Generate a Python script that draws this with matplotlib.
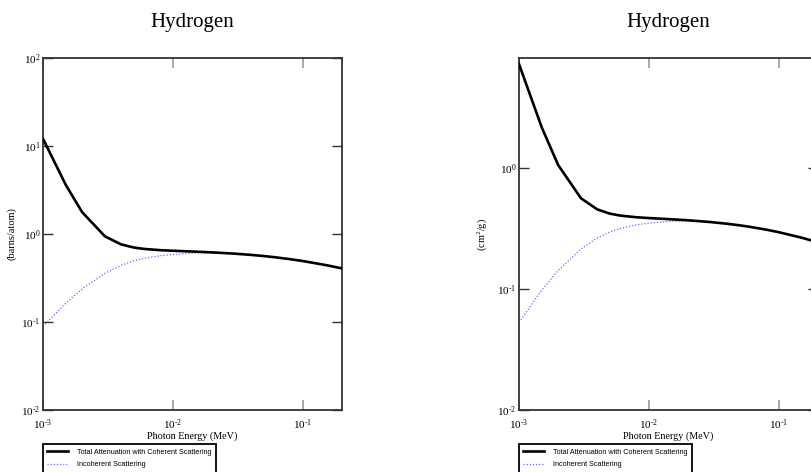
import matplotlib
matplotlib.use("Agg")
import matplotlib.pyplot as plt
from matplotlib.ticker import LogLocator, NullLocator, FuncFormatter
import numpy as np

plt.rcParams['font.family'] = ['Liberation Serif', 'DejaVu Serif']
plt.rcParams['mathtext.default'] = 'regular'
plt.rcParams['axes.unicode_minus'] = False

# Hydrogen, photon energy (MeV)
energia = [0.001, 0.0015, 0.002, 0.003, 0.004, 0.005, 0.006, 0.008, 0.01,
           0.015, 0.02, 0.03, 0.04, 0.05, 0.06, 0.08, 0.1, 0.15, 0.2]

# barns/atom
total_barns = [12.08, 3.597, 1.772, 0.9393, 0.7609, 0.7018, 0.6765, 0.6551, 0.6451,
               0.6300, 0.6184, 0.5975, 0.5788, 0.5615, 0.5456, 0.5173, 0.4927, 0.4437, 0.4065]
incoh_barns = [0.0887, 0.164, 0.238, 0.358, 0.442, 0.495, 0.529, 0.567, 0.586,
               0.608, 0.609, 0.596, 0.577, 0.561, 0.546, 0.517, 0.492, 0.4435, 0.4067]

# cm2/g
total_cm2g = [7.217, 2.149, 1.059, 0.5612, 0.4546, 0.4193, 0.4042, 0.3914, 0.3854,
              0.3764, 0.3695, 0.3570, 0.3458, 0.3355, 0.3260, 0.3091, 0.2944, 0.2651, 0.2429]
incoh_cm2g = [0.0530, 0.0980, 0.1420, 0.2140, 0.2640, 0.2960, 0.3160, 0.3390, 0.3500,
              0.3630, 0.3640, 0.3560, 0.3450, 0.3350, 0.3260, 0.3090, 0.2940, 0.2650, 0.2430]

etiquetas = ['Total Attenuation with Coherent Scattering', 'Incoherent Scattering']

fig = plt.figure(figsize=(8.12, 4.72), dpi=100)
W, H = 812.0, 472.0


def potencia(v, pos):
    e = int(round(np.log10(v)))
    signo = '\u2010' if e < 0 else ''
    return '10$^{%s%d}$' % (signo, abs(e))


def graficar(x0, total, incoh, ylim, ylabel, ylabel_x):
    ax = fig.add_axes([x0 / W, 62 / H, 299 / W, 352 / H])
    ax.set_xscale('log')
    ax.set_yscale('log')
    l1, = ax.plot(energia, total, color='black', lw=1.9, zorder=3)
    l2, = ax.plot(energia, incoh, color='#6b6bff', lw=0.9, ls=(0, (1, 1.5)), zorder=2)
    ax.set_xlim(0.001, 0.2)
    ax.set_ylim(*ylim)

    ax.xaxis.set_major_locator(LogLocator(base=10))
    ax.yaxis.set_major_locator(LogLocator(base=10))
    ax.xaxis.set_minor_locator(NullLocator())
    ax.yaxis.set_minor_locator(NullLocator())
    ax.xaxis.set_major_formatter(FuncFormatter(potencia))
    ax.yaxis.set_major_formatter(FuncFormatter(potencia))
    ax.tick_params(axis='x', which='major', direction='in', top=True, length=7,
                   width=1.2, color='#9a9a9a', labelsize=8, pad=5)
    ax.tick_params(axis='y', which='major', direction='in', right=True, length=7,
                   width=1.0, color='#333333', labelsize=8, pad=2)
    for s in ax.spines.values():
        s.set_color('#333333')
        s.set_linewidth(1.3)

    ax.set_xlabel('Photon Energy (MeV)', fontsize=7.3)
    ax.xaxis.set_label_coords(0.5, -0.061)
    ax.set_ylabel(ylabel, fontsize=7.5)
    ax.yaxis.set_label_coords(ylabel_x, 0.5)
    ax.text(0.5, 1.10, 'Hydrogen', transform=ax.transAxes, ha='center', va='center',
            fontsize=15)

    leg = ax.legend([l1, l2], etiquetas, loc='upper left', bbox_to_anchor=(0, -0.097),
                    prop={'family': ['Liberation Sans', 'DejaVu Sans'], 'size': 5.2},
                    frameon=True, fancybox=False, framealpha=1, edgecolor='black',
                    handlelength=2.9, handletextpad=1.2, labelspacing=0.8,
                    borderpad=0.6, borderaxespad=0)
    leg.get_frame().set_linewidth(1.3)
    return ax


graficar(43, total_barns, incoh_barns, (0.01, 100), '(barns/atom)', -0.09)
graficar(519, total_cm2g, incoh_cm2g, (0.01, 8.1), '(cm$^2$/g)', -0.10)

fig.savefig('out.png', dpi=100)
